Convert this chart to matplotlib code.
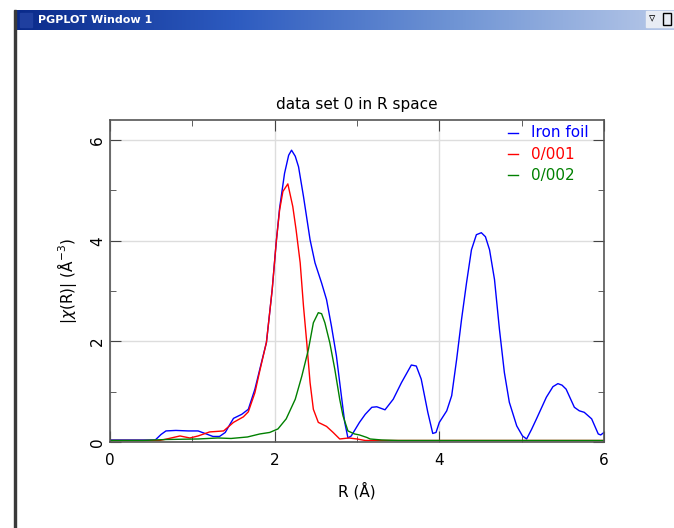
import numpy as np
import matplotlib
matplotlib.use("Agg")
import matplotlib.pyplot as plt
from matplotlib.patches import Rectangle

# |chi(R)| values
r_iron = [0.0, 0.3, 0.55, 0.62, 0.68, 0.8, 0.95, 1.07, 1.17, 1.25, 1.33, 1.40, 1.46, 1.50, 1.60,
          1.68, 1.76, 1.82, 1.90, 1.97, 2.02, 2.06, 2.12, 2.17, 2.205, 2.25, 2.29, 2.35, 2.43,
          2.49, 2.57, 2.63, 2.69, 2.75, 2.81, 2.85, 2.89, 2.93, 3.03, 3.10, 3.18, 3.24, 3.34,
          3.44, 3.54, 3.66, 3.72, 3.78, 3.86, 3.92, 3.96, 4.00, 4.09, 4.15, 4.21, 4.27, 4.33,
          4.39, 4.45, 4.51, 4.56, 4.61, 4.67, 4.73, 4.79, 4.85, 4.94, 5.01, 5.06, 5.12, 5.18,
          5.30, 5.38, 5.44, 5.49, 5.54, 5.64, 5.70, 5.76, 5.85, 5.93, 5.96, 6.0]
chi_iron = [0.04, 0.04, 0.04, 0.15, 0.22, 0.23, 0.22, 0.22, 0.16, 0.11, 0.11, 0.19, 0.36, 0.47, 0.55,
            0.65, 1.05, 1.45, 1.98, 3.03, 3.99, 4.65, 5.34, 5.70, 5.80, 5.68, 5.47, 4.88, 4.02,
            3.56, 3.16, 2.83, 2.30, 1.71, 0.92, 0.40, 0.08, 0.12, 0.39, 0.55, 0.69, 0.70, 0.64,
            0.85, 1.18, 1.53, 1.51, 1.25, 0.59, 0.17, 0.19, 0.39, 0.62, 0.92, 1.64, 2.44, 3.16,
            3.82, 4.12, 4.16, 4.08, 3.82, 3.23, 2.24, 1.38, 0.79, 0.32, 0.12, 0.06, 0.25, 0.46,
            0.89, 1.10, 1.16, 1.13, 1.05, 0.69, 0.62, 0.59, 0.46, 0.16, 0.14, 0.19]

r_001 = [0.0, 0.3, 0.6, 0.69, 0.85, 0.97, 1.07, 1.21, 1.38, 1.50, 1.62, 1.68, 1.76, 1.82, 1.90,
         1.97, 2.02, 2.06, 2.10, 2.16, 2.22, 2.26, 2.31, 2.35, 2.39, 2.43, 2.47, 2.53, 2.63,
         2.71, 2.79, 2.9, 3.0, 3.1, 4.0, 5.0, 6.0]
chi_001 = [0.03, 0.03, 0.03, 0.06, 0.12, 0.08, 0.12, 0.20, 0.22, 0.39, 0.50, 0.60, 0.98, 1.42, 1.98,
           3.03, 3.99, 4.61, 4.98, 5.13, 4.68, 4.22, 3.56, 2.70, 1.97, 1.18, 0.65, 0.39, 0.31,
           0.19, 0.06, 0.08, 0.06, 0.03, 0.03, 0.03, 0.03]

r_002 = [0.0, 0.4, 0.69, 1.07, 1.31, 1.47, 1.67, 1.82, 1.94, 2.04, 2.14, 2.25, 2.33, 2.41, 2.47,
         2.53, 2.57, 2.61, 2.67, 2.73, 2.79, 2.83, 2.89, 2.97, 3.03, 3.12, 3.16, 3.3, 3.5, 4.0,
         5.0, 6.0]
chi_002 = [0.03, 0.03, 0.05, 0.06, 0.08, 0.07, 0.10, 0.16, 0.19, 0.26, 0.46, 0.85, 1.31, 1.84, 2.37,
           2.57, 2.55, 2.37, 1.97, 1.45, 0.85, 0.52, 0.22, 0.16, 0.14, 0.09, 0.06, 0.04, 0.03, 0.03,
           0.03, 0.03]

labels = ["Iron foil", "0/001", "0/002"]
colors = ["#0000ff", "#ff0000", "#008000"]

W, H = 674, 528
fig = plt.figure(figsize=(W / 100, H / 100), dpi=100)
fig.patch.set_facecolor("white")

# window chrome: title bar and left border
grad = np.linspace(0, 1, 256).reshape(1, -1)
bar = fig.add_axes([15 / W, 1 - 30 / H, (W - 15) / W, 20 / H])
bar.imshow(grad, aspect="auto", cmap=matplotlib.colors.LinearSegmentedColormap.from_list(
    "tb", ["#0a2a8a", "#2d5bc0", "#6f94d4", "#b7c8e8"]), extent=[0, 1, 0, 1])
bar.set_axis_off()
bar.text(0.035, 0.5, "PGPLOT Window 1", color="white", fontsize=8, fontweight="bold",
         va="center", ha="left", transform=bar.transAxes)
bar.add_patch(Rectangle((0.008, 0.15), 0.018, 0.7, color="#1f3f9f", transform=bar.transAxes))
fig.add_artist(Rectangle((14 / W, 0), 2 / W, 1 - 10 / H, color="#3a3a3a", transform=fig.transFigure))
fig.add_artist(Rectangle((646 / W, 1 - 27 / H), 28 / W, 16 / H, color="#e8ecf4",
                         transform=fig.transFigure))
fig.text(652 / W, 1 - 19 / H, "▿", fontsize=9, va="center", ha="center")
fig.add_artist(Rectangle((663 / W, 1 - 25 / H), 8 / W, 12 / H, fill=False, ec="black", lw=1,
                         transform=fig.transFigure))

# main plot
ax = fig.add_axes([110 / W, 1 - 442 / H, 494 / W, 322 / H])
ax.plot(r_iron, chi_iron, color=colors[0], lw=1)
ax.plot(r_001, chi_001, color=colors[1], lw=1)
ax.plot(r_002, chi_002, color=colors[2], lw=1)

ax.set_xlim(0, 6)
ax.set_ylim(0, 6.4)
ax.set_xticks([0, 2, 4, 6])
ax.set_xticks([1, 3, 5], minor=True)
ax.set_yticks([0, 2, 4, 6])
ax.set_yticks([1, 3, 5], minor=True)
ax.grid(True, which="major", color="#dddddd", lw=1)
ax.set_axisbelow(True)
ax.tick_params(which="both", direction="in", top=True, right=True, colors="#444444",
               labelcolor="black", labelsize=11)
ax.tick_params(which="major", length=8)
ax.tick_params(which="minor", length=4)
ax.tick_params(axis="x", pad=8)
for lab in ax.get_yticklabels():
    lab.set_rotation(90)
    lab.set_va("center")
for s in ax.spines.values():
    s.set_color("#555555")
    s.set_linewidth(1.2)

ax.set_title("data set 0 in R space", fontsize=11, pad=8)
ax.set_xlabel("R (Å)", fontsize=11, labelpad=10)
ax.set_ylabel(r"|$\chi$(R)| (Å$^{-3}$)", fontsize=11, labelpad=8)

for i, (lab, c) in enumerate(zip(labels, colors)):
    yy = 0.96 - i * 0.066
    ax.plot([0.805, 0.826], [yy, yy], color=c, lw=1, transform=ax.transAxes, clip_on=False)
    ax.text(0.853, yy, lab, color=c, fontsize=11, va="center", ha="left", transform=ax.transAxes)

fig.savefig("out.png", dpi=100)
